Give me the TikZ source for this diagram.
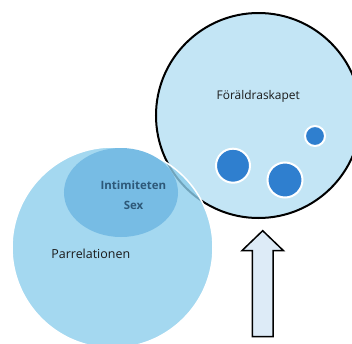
\documentclass[tikz,border=0pt]{standalone}
\usepackage{fontspec}
\setmainfont{Open Sans}
\usetikzlibrary{shapes.geometric}
\definecolor{parentblue}{HTML}{C3E5F5}
\definecolor{coupleblue}{HTML}{8DCEEC}
\definecolor{intimblue}{HTML}{77BCE4}
\definecolor{childblue}{HTML}{2F7FCF}
\definecolor{arrowblue}{HTML}{DDEBF7}
\definecolor{intimtext}{HTML}{2D5878}
\definecolor{labeltext}{HTML}{1A1A1A}

\begin{document}
\begin{tikzpicture}[
    x=1bp, y=-1bp,
    every node/.style={font=\fontsize{12}{14}\selectfont, text=labeltext},
    parent/.style={circle, draw=black, line width=2bp, fill=parentblue, inner sep=0pt, minimum size=205bp},
    couple/.style={circle, draw=white, line width=1.5bp, fill=coupleblue, fill opacity=0.8, inner sep=0pt, minimum size=201bp},
    intimacy/.style={ellipse, fill=intimblue, inner sep=0pt, minimum width=114bp, minimum height=89bp},
    child/.style={circle, draw=white, line width=2bp, fill=childblue, inner sep=0pt},
    caption/.style={anchor=base, inner sep=0pt},
    boldcaption/.style={anchor=base, inner sep=0pt, text=intimtext, font=\fontsize{11.5}{13}\selectfont\bfseries},
    uparrow/.style={draw=black, line width=1.5bp, fill=arrowblue, line join=miter}
]
\useasboundingbox (0,0) rectangle (352,344);
\clip (0,0) rectangle (352,344);

\node[parent] (parenthood) at (258.5,115.5) {};
\node[child, minimum size=34bp] (child_a) at (233,165.7) {};
\node[child, minimum size=35bp] (child_b) at (285,180) {};
\node[child, minimum size=20bp] (child_c) at (315,136) {};

\node[couple] (relationship) at (112.5,247.5) {};
\node[intimacy] (intimacy) at (121,192.5) {};

\node[caption] (parenthood_text) at (258.3,99.3) {Föräldraskapet};
\node[caption, font=\fontsize{12.5}{14}\selectfont] (relationship_text) at (90.8,258.3) {Parrelationen};
\node[boldcaption] (intimacy_text) at (133.3,189) {Intimiteten};
\node[boldcaption] (sex_text) at (133.5,209.3) {Sex};

\draw[uparrow] (252.4,336.7) -- (252.4,250.7) -- (241.9,250.7) -- (262.7,230.7)
    -- (283.5,250.7) -- (273,250.7) -- (273,336.7) -- cycle;

\end{tikzpicture}
\end{document}
